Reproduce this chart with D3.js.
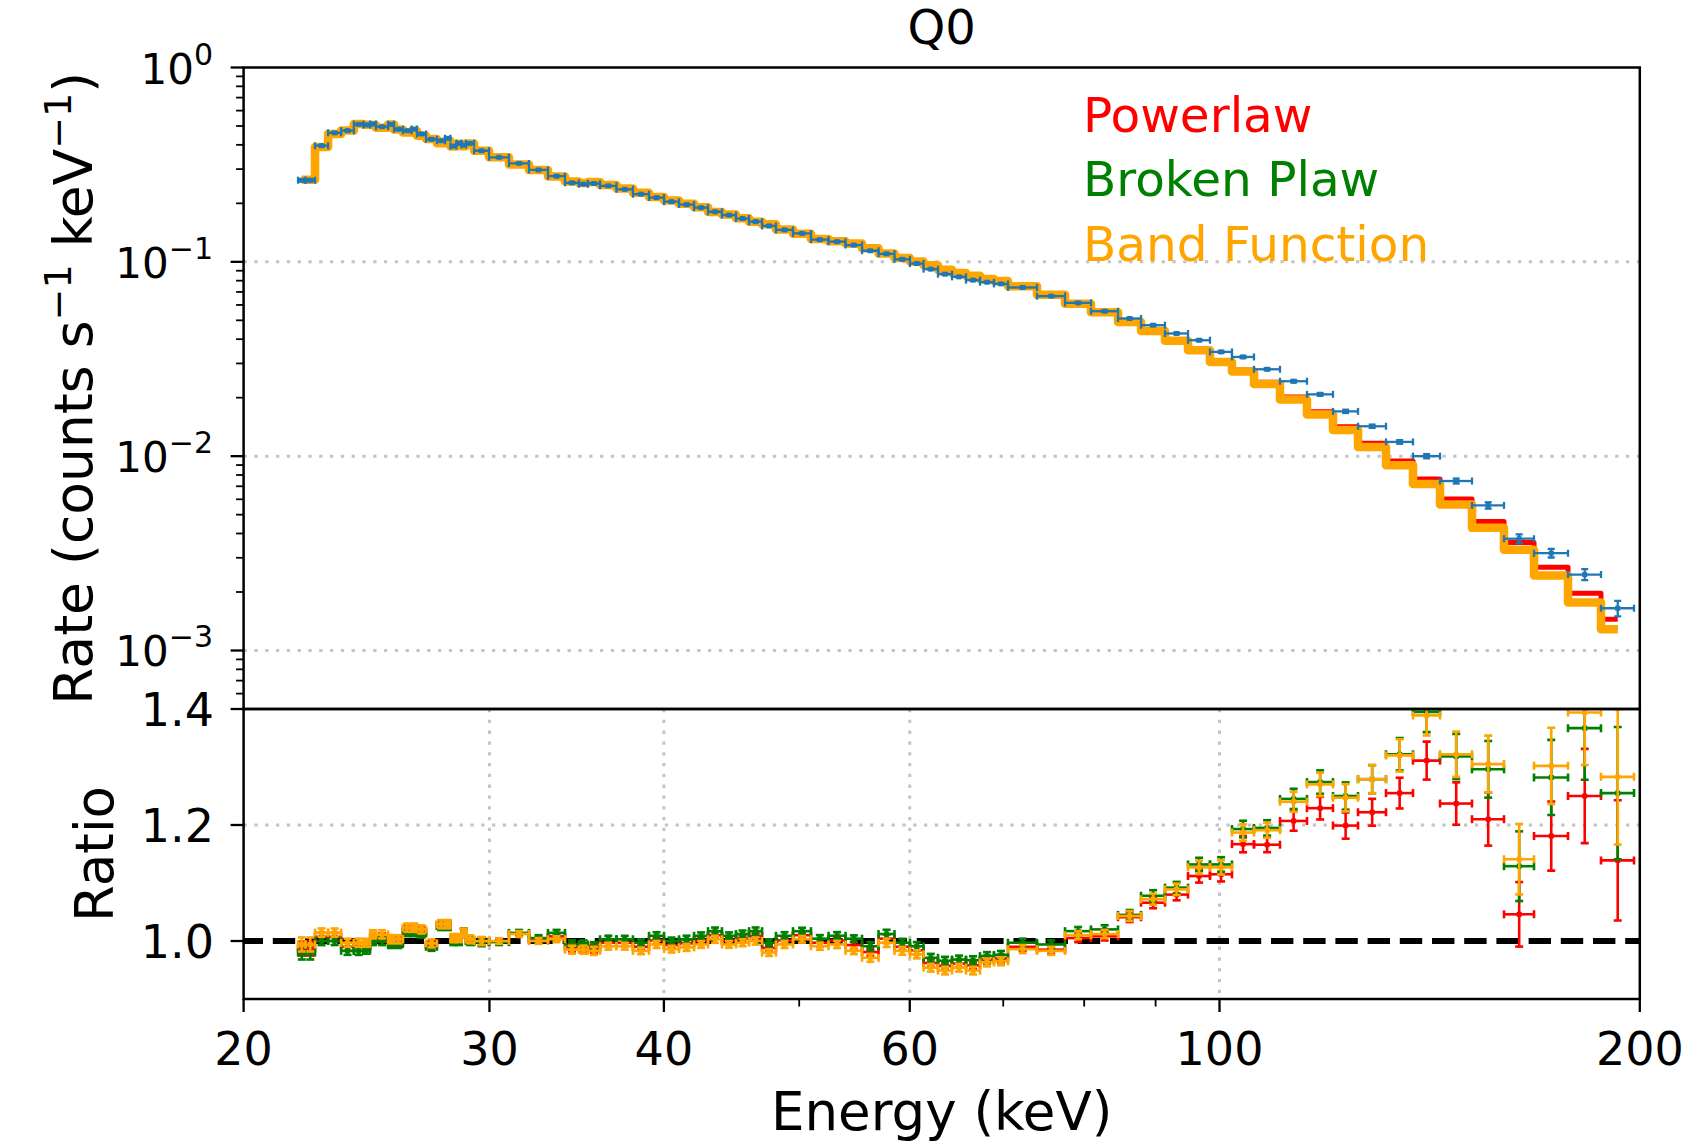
<!DOCTYPE html>
<html><head><meta charset="utf-8">
<script src="https://cdn.jsdelivr.net/npm/d3@7"></script>
<style>
body{margin:0;background:#fff}
svg{display:block}
text{font-family:"DejaVu Sans",sans-serif}
</style>
</head><body>
<svg id="c" width="1705" height="1146"></svg>
<script>
// ---------------- data ----------------
const binEdges = [21.88, 22.15, 22.50, 22.99, 23.49, 23.99, 24.37, 24.64, 24.88, 25.38,
  25.63, 26.01, 26.38, 26.62, 27.02, 27.51, 27.88, 28.13, 28.41, 28.65,
  28.86, 29.25, 29.98, 30.98, 32.02, 33.04, 33.98, 34.77, 35.29, 36.00,
  36.99, 38.01, 39.03, 40.01, 41.01, 42.04, 43.02, 44.02, 45.05, 46.03,
  47.03, 48.12, 49.49, 50.98, 52.48, 53.97, 55.46, 56.99, 58.51, 60.02,
  61.38, 62.86, 64.33, 65.83, 67.37, 68.94, 70.55, 74.01, 77.51, 80.90,
  84.59, 87.86, 91.40, 94.94, 98.44, 102.08, 105.85, 110.49, 115.52, 120.58,
  125.66, 131.60, 137.59, 143.86, 151.65, 159.87, 167.98, 177.67, 187.60, 198.10];

const rate = [0.263, 0.263, 0.396, 0.461, 0.473, 0.510, 0.506, 0.512, 0.496, 0.510,
  0.481, 0.473, 0.482, 0.455, 0.427, 0.420, 0.432, 0.394, 0.407, 0.399,
  0.407, 0.373, 0.345, 0.321, 0.297, 0.276, 0.255, 0.251, 0.253, 0.246,
  0.236, 0.223, 0.214, 0.204, 0.197, 0.190, 0.181, 0.174, 0.167, 0.161,
  0.153, 0.146, 0.140, 0.130, 0.127, 0.122, 0.114, 0.110, 0.103, 0.098,
  0.0917, 0.0864, 0.0837, 0.0805, 0.0785, 0.0770, 0.0738, 0.0666, 0.0615, 0.0557,
  0.0511, 0.0472, 0.0428, 0.0395, 0.0344, 0.0324, 0.0280, 0.0243, 0.0208, 0.0170,
  0.01425, 0.01184, 0.0100, 0.00745, 0.00558, 0.00376, 0.00317, 0.00246, 0.00165];

const rateErr = [0.0032, 0.0032, 0.0028, 0.0032, 0.0033, 0.0036, 0.0035, 0.0036, 0.0035, 0.0036,
  0.0034, 0.0033, 0.0034, 0.0032, 0.0030, 0.0029, 0.0030, 0.0028, 0.0028, 0.0028,
  0.0028, 0.0026, 0.0017, 0.0016, 0.0015, 0.0014, 0.0018, 0.0018, 0.0018, 0.0015,
  0.0014, 0.0013, 0.0013, 0.0012, 0.0012, 0.0011, 0.0011, 0.0010, 0.0010, 0.0010,
  0.0009, 0.0009, 0.0008, 0.0008, 0.0008, 0.0007, 0.0008, 0.0008, 0.0007, 0.0007,
  0.00064, 0.00060, 0.00059, 0.00056, 0.00055, 0.00054, 0.00052, 0.00047, 0.00043, 0.00039,
  0.00041, 0.00042, 0.00039, 0.00040, 0.00038, 0.00039, 0.00031, 0.00034, 0.00033, 0.00032,
  0.00027, 0.00025, 0.00025, 0.00022, 0.00021, 0.00020, 0.00016, 0.00016, 0.00015];

// data / model ratios for the three fits
const ratioPowerlaw = [0.987, 0.987, 1.007, 1.007, 0.990, 0.990, 0.991, 1.006, 1.006, 0.999,
  0.999, 1.019, 1.019, 1.016, 0.993, 1.027, 1.027, 1.002, 1.002, 1.014,
  1.001, 0.999, 0.999, 1.013, 1.002, 1.008, 0.989, 0.989, 0.987, 0.997,
  0.997, 0.990, 1.001, 0.993, 0.996, 1.001, 1.010, 1.001, 1.004, 1.008,
  0.988, 1.001, 1.010, 0.997, 1.001, 0.993, 0.981, 1.004, 0.990, 0.984,
  0.962, 0.957, 0.961, 0.958, 0.968, 0.970, 0.990, 0.985, 1.005, 1.008,
  1.041, 1.066, 1.080, 1.112, 1.115, 1.167, 1.166, 1.207, 1.229, 1.199,
  1.222, 1.255, 1.311, 1.237, 1.210, 1.046, 1.181, 1.250, 1.139];

const ratioBrokenPlaw = [0.980, 0.980, 1.000, 1.000, 0.983, 0.983, 0.985, 1.000, 1.000, 0.995,
  0.995, 1.0155, 1.0155, 1.013, 0.990, 1.026, 1.026, 1.000, 1.000, 1.014,
  1.000, 0.998, 0.998, 1.014, 1.005, 1.014, 0.994, 0.994, 0.991, 1.003,
  1.003, 0.997, 1.009, 1.000, 1.003, 1.009, 1.017, 1.009, 1.012, 1.017,
  0.997, 1.009, 1.017, 1.004, 1.009, 1.004, 0.991, 1.012, 0.997, 0.991,
  0.971, 0.966, 0.968, 0.967, 0.974, 0.976, 0.997, 0.994, 1.017, 1.020,
  1.045, 1.078, 1.092, 1.132, 1.132, 1.193, 1.195, 1.245, 1.274, 1.250,
  1.279, 1.322, 1.395, 1.318, 1.296, 1.129, 1.282, 1.367, 1.255];

const ratioBand = [0.994, 0.994, 1.0145, 1.0145, 0.997, 0.997, 0.997, 1.0115, 1.0115, 1.003,
  1.003, 1.023, 1.023, 1.020, 0.996, 1.029, 1.029, 1.005, 1.005, 1.014,
  1.003, 1.000, 1.000, 1.012, 1.000, 1.003, 0.985, 0.985, 0.983, 0.991,
  0.991, 0.983, 0.994, 0.986, 0.989, 0.994, 1.003, 0.994, 0.997, 1.000,
  0.980, 0.994, 1.003, 0.991, 0.994, 0.983, 0.971, 0.997, 0.983, 0.977,
  0.954, 0.949, 0.954, 0.949, 0.963, 0.965, 0.986, 0.983, 1.010, 1.012,
  1.043, 1.072, 1.089, 1.127, 1.127, 1.187, 1.191, 1.240, 1.270, 1.247,
  1.279, 1.320, 1.389, 1.322, 1.305, 1.141, 1.302, 1.394, 1.283];

const modelNames = ["Powerlaw", "Broken Plaw", "Band Function"];
const modelColors = ["#ff0000", "#008000", "#ffa500"];
const xTickValues = [20, 30, 40, 60, 100, 200];
const xMinorTickValues = [50, 70, 80, 90];
const yRateTicks = [1, 0.1, 0.01, 0.001];
const yRateTickExponents = ["0", "\u22121", "\u22122", "\u22123"];
const ratioTicks = [1.0, 1.2, 1.4];

// ---------------- layout ----------------
const svg = d3.select("#c");
const X0 = 243.6, X1 = 1639.8, YT0 = 67.5, YMID = 709, YB1 = 999;
const x = d3.scaleLog().domain([20, 200]).range([X0, X1]);
const yT = d3.scaleLog().domain([5e-4, 1]).range([YMID, YT0]);
const yB = d3.scaleLinear().domain([0.9, 1.4]).range([YB1, YMID]);

const defs = svg.append("defs");
defs.append("clipPath").attr("id", "clipTop").append("rect")
  .attr("x", X0).attr("y", YT0).attr("width", X1 - X0).attr("height", YMID - YT0);
defs.append("clipPath").attr("id", "clipBot").append("rect")
  .attr("x", X0).attr("y", YMID).attr("width", X1 - X0).attr("height", YB1 - YMID);

const bins = rate.map((r, i) => ({
  lo: binEdges[i], hi: binEdges[i + 1], c: (binEdges[i] + binEdges[i + 1]) / 2, r, e: rateErr[i]
}));
const ratios = [ratioPowerlaw, ratioBrokenPlaw, ratioBand];

const gridStyle = sel => sel.attr("stroke", "#c4c4c4").attr("stroke-width", 3)
  .attr("stroke-dasharray", "3.3 7.5").attr("fill", "none");

// ---------- top panel ----------
const gTop = svg.append("g");
gTop.selectAll("line.grid").data(yRateTicks.slice(1)).join("line")
  .attr("x1", X0).attr("x2", X1).attr("y1", d => yT(d)).attr("y2", d => yT(d)).call(gridStyle);

const gTopClip = gTop.append("g").attr("clip-path", "url(#clipTop)");
const stepLine = d3.line().curve(d3.curveStepAfter);
const modelWidths = [5, 3.5, 8.5];
ratios.forEach((rat, k) => {
  const m = bins.map((b, i) => b.r / rat[i]);
  const pts = [[x(bins[0].c), yT(m[0])]];
  for (let i = 1; i < bins.length; i++) pts.push([x(bins[i].lo), yT(m[i])]);
  pts.push([x(bins[bins.length - 1].c), yT(m[bins.length - 1])]);
  gTopClip.append("path").attr("d", stepLine(pts)).attr("fill", "none")
    .attr("stroke", modelColors[k]).attr("stroke-width", modelWidths[k])
    .attr("stroke-linejoin", "round");
});

function errorbars(g, data, xs, ys, color, cap, lw, ms) {
  const gg = g.append("g").attr("stroke", color).attr("stroke-width", lw).attr("fill", color);
  data.forEach(d => {
    const cx = xs(d.c), cy = ys(d.v);
    const xl = xs(d.lo), xh = xs(d.hi), yl = ys(d.v - d.err), yh = ys(d.v + d.err);
    gg.append("line").attr("x1", xl).attr("x2", xh).attr("y1", cy).attr("y2", cy);
    gg.append("line").attr("x1", cx).attr("x2", cx).attr("y1", yl).attr("y2", yh);
    gg.append("line").attr("x1", xl).attr("x2", xl).attr("y1", cy - cap).attr("y2", cy + cap);
    gg.append("line").attr("x1", xh).attr("x2", xh).attr("y1", cy - cap).attr("y2", cy + cap);
    gg.append("line").attr("x1", cx - cap).attr("x2", cx + cap).attr("y1", yl).attr("y2", yl);
    gg.append("line").attr("x1", cx - cap).attr("x2", cx + cap).attr("y1", yh).attr("y2", yh);
    gg.append("rect").attr("x", cx - ms / 2).attr("y", cy - ms / 2).attr("width", ms).attr("height", ms)
      .attr("stroke", "none");
  });
}
errorbars(gTopClip, bins.map(b => ({lo: b.lo, hi: b.hi, c: b.c, v: b.r, err: b.e})),
  x, yT, "#1f77b4", 3.5, 2.3, 5);

// legend
modelNames.forEach((n, k) => {
  svg.append("text").attr("x", 1083).attr("y", 131.6 + k * 64.7)
    .attr("font-size", 48.5).attr("fill", modelColors[k]).text(n);
});

// ---------- bottom panel ----------
const gBot = svg.append("g");
gBot.append("line").attr("x1", X0).attr("x2", X1).attr("y1", yB(1.2)).attr("y2", yB(1.2)).call(gridStyle);
gBot.selectAll("line.vg").data(xTickValues.slice(1, -1)).join("line")
  .attr("x1", d => x(d)).attr("x2", d => x(d)).attr("y1", YMID).attr("y2", YB1).call(gridStyle);
gBot.append("line").attr("x1", X0).attr("x2", X1).attr("y1", yB(1)).attr("y2", yB(1))
  .attr("stroke", "#000").attr("stroke-width", 6).attr("stroke-dasharray", "22.4 9.8")
  .attr("stroke-dashoffset", 3);
const gBotClip = gBot.append("g").attr("clip-path", "url(#clipBot)");
ratios.forEach((rat, k) => {
  const data = bins.map((b, i) => ({lo: b.lo, hi: b.hi, c: b.c, v: rat[i], err: b.e * rat[i] / b.r}));
  errorbars(gBotClip, data, x, yB, modelColors[k], 4, 2.6, 5);
});

// ---------- spines & ticks ----------
[[YT0, YMID], [YMID, YB1]].forEach(([a, b]) => {
  svg.append("rect").attr("x", X0).attr("y", a).attr("width", X1 - X0).attr("height", b - a)
    .attr("stroke", "#000").attr("stroke-width", 2.5).attr("fill", "none");
});
const tickG = svg.append("g").attr("stroke", "#000");
xTickValues.forEach(v => tickG.append("line").attr("x1", x(v)).attr("x2", x(v))
  .attr("y1", YB1).attr("y2", YB1 + 13).attr("stroke-width", 2.3));
xMinorTickValues.forEach(v => tickG.append("line").attr("x1", x(v)).attr("x2", x(v))
  .attr("y1", YB1).attr("y2", YB1 + 7.5).attr("stroke-width", 1.8));
yRateTicks.forEach(v => tickG.append("line").attr("x1", X0 - 13).attr("x2", X0)
  .attr("y1", yT(v)).attr("y2", yT(v)).attr("stroke-width", 2.3));
const minorRate = [];
[1e-4, 1e-3, 1e-2, 1e-1].forEach(dec => d3.range(2, 10).forEach(m => {
  const v = dec * m; if (v >= 5e-4 && v < 1) minorRate.push(v);
}));
minorRate.forEach(v => tickG.append("line").attr("x1", X0 - 7.5).attr("x2", X0)
  .attr("y1", yT(v)).attr("y2", yT(v)).attr("stroke-width", 1.8));
ratioTicks.forEach(v => tickG.append("line").attr("x1", X0 - 13).attr("x2", X0)
  .attr("y1", yB(v)).attr("y2", yB(v)).attr("stroke-width", 2.3));

// tick labels
const TF = 46;
xTickValues.forEach(v => svg.append("text").attr("x", x(v)).attr("y", 1065)
  .attr("text-anchor", "middle").attr("font-size", TF).text(v));
yRateTicks.forEach((v, i) => {
  const t = svg.append("text").attr("x", 213).attr("y", yT(v) + 16)
    .attr("text-anchor", "end").attr("font-size", 42);
  t.append("tspan").text("10");
  t.append("tspan").attr("dy", -19).attr("font-size", 30).text(yRateTickExponents[i]);
});
ratioTicks.forEach(v => svg.append("text").attr("x", 214).attr("y", yB(v) + 17)
  .attr("text-anchor", "end").attr("font-size", TF).text(d3.format(".1f")(v)));

// axis labels
svg.append("text").attr("x", (X0 + X1) / 2).attr("y", 1130).attr("text-anchor", "middle")
  .attr("font-size", 53).text("Energy (keV)");
const yl = svg.append("text").attr("transform", `translate(92,${(YT0 + YMID) / 2}) rotate(-90)`)
  .attr("text-anchor", "middle").attr("font-size", 53.5);
yl.append("tspan").text("Rate (counts s");
yl.append("tspan").attr("dy", -21).attr("font-size", 38).text("\u22121");
yl.append("tspan").attr("dy", 21).text(" keV");
yl.append("tspan").attr("dy", -21).attr("font-size", 38).text("\u22121");
yl.append("tspan").attr("dy", 21).text(")");
svg.append("text").attr("transform", `translate(113,${(YMID + YB1) / 2}) rotate(-90)`)
  .attr("text-anchor", "middle").attr("font-size", 53).text("Ratio");

// title
svg.append("text").attr("x", (X0 + X1) / 2).attr("y", 44).attr("text-anchor", "middle")
  .attr("font-size", 48).text("Q0");
</script>
</body></html>
